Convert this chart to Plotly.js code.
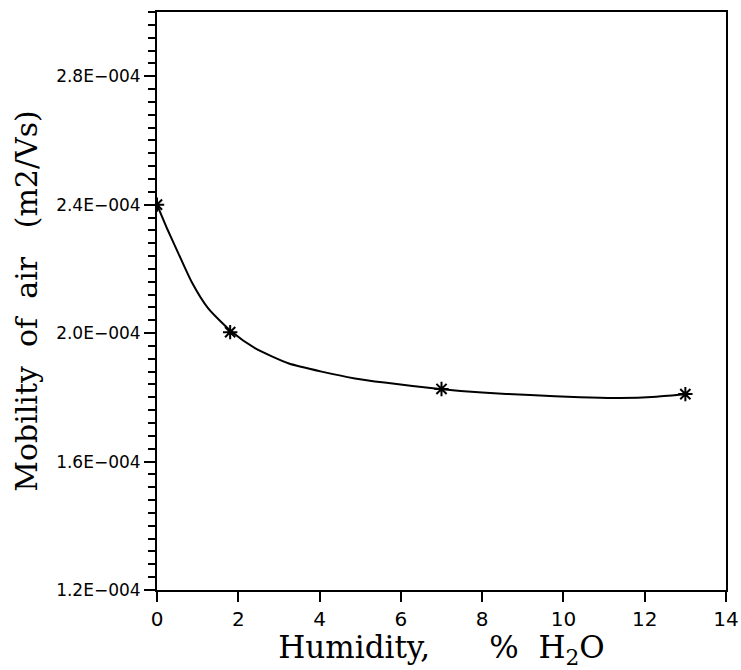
<!DOCTYPE html>
<html>
<head>
<meta charset="utf-8">
<script src="https://cdn.plot.ly/plotly-3.0.1.min.js"></script>
<style>html,body{margin:0;padding:0;background:#fff;}#chart{width:741px;height:670px;}</style>
</head>
<body>
<div id="chart"></div>
<script>
// Measured points (humidity % H2O, mobility m2/Vs)
const measX = [0, 1.8, 7.0, 13.0];
const measY = [2.40e-4, 2.003e-4, 1.826e-4, 1.81e-4];

// Fitted curve
const curveX = [0, 0.25, 0.52, 0.85, 1.26, 1.84, 2.41, 3.23, 4.05, 4.87, 5.6, 6.96, 8.0, 9.18, 10.41, 11.39, 12.29, 13.07];
const curveY = [2.400e-4, 2.325e-4, 2.250e-4, 2.160e-4, 2.077e-4, 2.004e-4, 1.953e-4, 1.906e-4, 1.880e-4, 1.859e-4, 1.846e-4, 1.826e-4, 1.815e-4, 1.807e-4, 1.800e-4, 1.798e-4, 1.802e-4, 1.810e-4];

const yTickVals = [1.2e-4, 1.6e-4, 2.0e-4, 2.4e-4, 2.8e-4];
const yTickText = ["1.2E\u2212004", "1.6E\u2212004", "2.0E\u2212004", "2.4E\u2212004", "2.8E\u2212004"];
const xTickVals = [0, 2, 4, 6, 8, 10, 12, 14];
const xTickText = ["0", "2", "4", "6", "8", "10", "12", "14"];

const traces = [
  {x: curveX, y: curveY, type: 'scatter', mode: 'lines',
   line: {color: '#000', width: 2, shape: 'spline', smoothing: 0.6}, showlegend: false},
  {x: measX, y: measY, type: 'scatter', mode: 'markers',
   marker: {symbol: 'asterisk-open', size: 12, color: '#000', line: {color: '#000', width: 2}}, showlegend: false}
];

const NB = '\u00A0';
const layout = {
  width: 741, height: 670,
  margin: {l: 157, r: 15, t: 12, b: 80},
  paper_bgcolor: '#fff', plot_bgcolor: '#fff',
  showlegend: false,
  xaxis: {
    range: [0, 14], tickmode: 'array', tickvals: xTickVals, ticktext: xTickText,
    tickfont: {family: 'DejaVu Sans', size: 20, color: 'black'},
    ticks: 'outside', ticklen: 10, tickwidth: 2, tickcolor: '#000',
    showline: true, linecolor: '#000', linewidth: 2, mirror: true,
    showgrid: false, zeroline: false,
    title: {text: 'Humidity,' + NB.repeat(6) + '%' + NB.repeat(2) + 'H<sub>2</sub>O',
            font: {family: 'DejaVu Serif', size: 31, color: 'black'}, standoff: 11}
  },
  yaxis: {
    range: [1.2e-4, 3.0e-4], tickmode: 'array', tickvals: yTickVals, ticktext: yTickText,
    tickfont: {family: 'DejaVu Sans', size: 17, color: 'black'},
    ticks: 'outside', ticklen: 11, tickwidth: 2, tickcolor: '#000',
    minor: {dtick: 0.04e-4, ticks: 'outside', ticklen: 7, tickwidth: 2, tickcolor: '#000', showgrid: false},
    showline: true, linecolor: '#000', linewidth: 2, mirror: true,
    showgrid: false, zeroline: false,
    title: {text: 'Mobility' + NB.repeat(2) + 'of' + NB.repeat(2) + 'air' + NB.repeat(3) + '(m2/Vs)',
            font: {family: 'DejaVu Serif', size: 30, color: 'black'}, standoff: 10}
  }
};

Plotly.newPlot('chart', traces, layout, {displayModeBar: false, staticPlot: true});
</script>
</body>
</html>
